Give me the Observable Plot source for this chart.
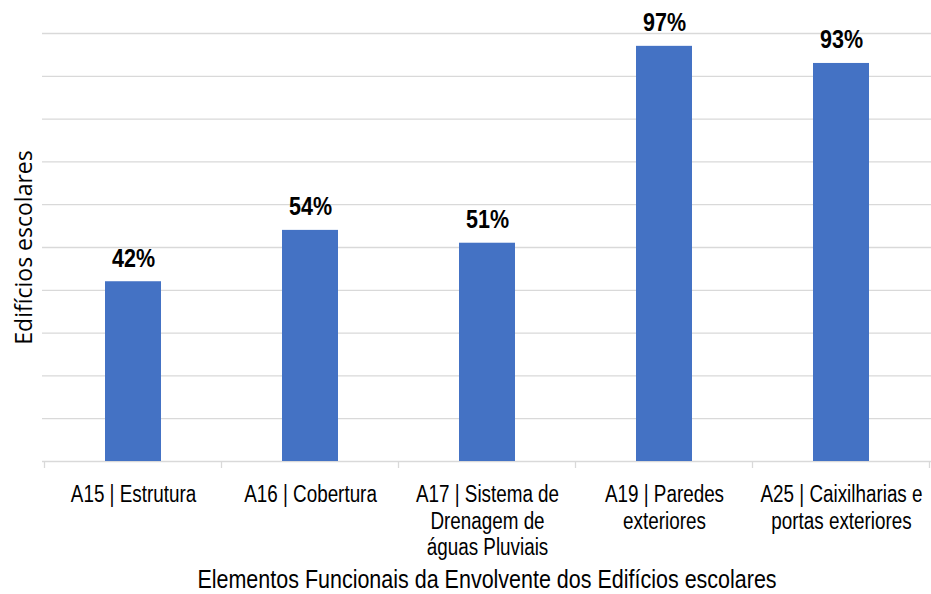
<!DOCTYPE html>
<html>
<head>
<meta charset="utf-8">
<script src="https://cdn.jsdelivr.net/npm/d3@7"></script>
<script src="https://cdn.jsdelivr.net/npm/@observablehq/plot@0.6"></script>
<style>
  html, body { margin: 0; padding: 0; background: #fff; }
</style>
</head>
<body>
<div id="chart"></div>
<script>
const categories = ["A15", "A16", "A17", "A19", "A25"];
const tickLabels = [
  "A15 | Estrutura",
  "A16 | Cobertura",
  "A17 | Sistema de\nDrenagem de\náguas Pluviais",
  "A19 | Paredes\nexteriores",
  "A25 | Caixilharias e\nportas exteriores"
];
const values = [42, 54, 51, 97, 93];
const gridValues = [10, 20, 30, 40, 50, 60, 70, 80, 90, 100];
const xTitle = "Elementos Funcionais da Envolvente dos Edifícios escolares";
const yTitle = "Edifícios escolares";

const data = categories.map((c, i) => ({cat: c, label: tickLabels[i], value: values[i]}));

const sans = "'Liberation Sans', Arial, sans-serif";

const plot = Plot.plot({
  width: 931,
  height: 594,
  marginLeft: 42,
  marginRight: 0,
  marginTop: 33,
  marginBottom: 133,
  x: {domain: categories, paddingInner: 0.685, paddingOuter: 0.3425, axis: null},
  y: {domain: [0, 100], axis: null},
  marks: [
    Plot.ruleY(gridValues, {stroke: "#d9d9d9", strokeWidth: 1.3}),
    Plot.ruleY([0], {stroke: "#d9d9d9", strokeWidth: 1.3}),
    Plot.barY(data, {x: "cat", y: "value", fill: "#4472C4"}),
    Plot.text(data, {
      x: "cat", y: "value", text: d => d.value + "%",
      lineAnchor: "bottom", dy: -15,
      fontSize: 25, fontWeight: "bold", fontFamily: sans, fill: "#000"
    }),
    Plot.text(data, {
      x: "cat", y: () => 0, text: "label",
      lineAnchor: "top", dy: 21, lineHeight: 1.17,
      fontSize: 23, fontFamily: sans, fill: "#000"
    }),
    Plot.text([xTitle], {
      frameAnchor: "bottom", dy: 118, lineAnchor: "middle",
      fontSize: 25, fontFamily: sans, fill: "#000"
    }),
    Plot.text([yTitle], {
      frameAnchor: "left", textAnchor: "middle", rotate: -90, dx: -18,
      fontSize: 23, fontFamily: "'Open Sans', sans-serif", fill: "#000"
    })
  ]
});

const svg = d3.select(plot);

// boundary ticks on the category axis, from the band scale
const xs = plot.scale("x");
const ys = plot.scale("y");
const y0 = ys.apply(0);
const half = (xs.step - xs.bandwidth) / 2;
const bounds = categories.map(c => xs.apply(c) - half);
bounds.push(xs.apply(categories[categories.length - 1]) + xs.bandwidth + half);
svg.append("g")
  .selectAll("line")
  .data(bounds)
  .join("line")
  .attr("x1", d => d).attr("x2", d => d)
  .attr("y1", y0).attr("y2", y0 + 7)
  .attr("stroke", "#d9d9d9").attr("stroke-width", 1.3);

document.getElementById("chart").appendChild(plot);

// condense the Arial-Narrow-like texts (scale around each text's own centre)
const flat = s => s.replace(/\s+/g, "");
const tickSet = new Set(tickLabels.map(flat));
svg.selectAll("text").each(function () {
  const content = flat(this.textContent);
  let k = null;
  if (/%$/.test(content)) k = 0.86;
  else if (tickSet.has(content)) k = 0.82;
  else if (content === flat(xTitle)) k = 0.86;
  if (k == null) return;
  const b = this.getBBox();
  const cx = b.x + b.width / 2;
  const prev = this.getAttribute("transform") || "";
  this.setAttribute("transform", `${prev} translate(${cx},0) scale(${k},1) translate(${-cx},0)`);
});
</script>
</body>
</html>
